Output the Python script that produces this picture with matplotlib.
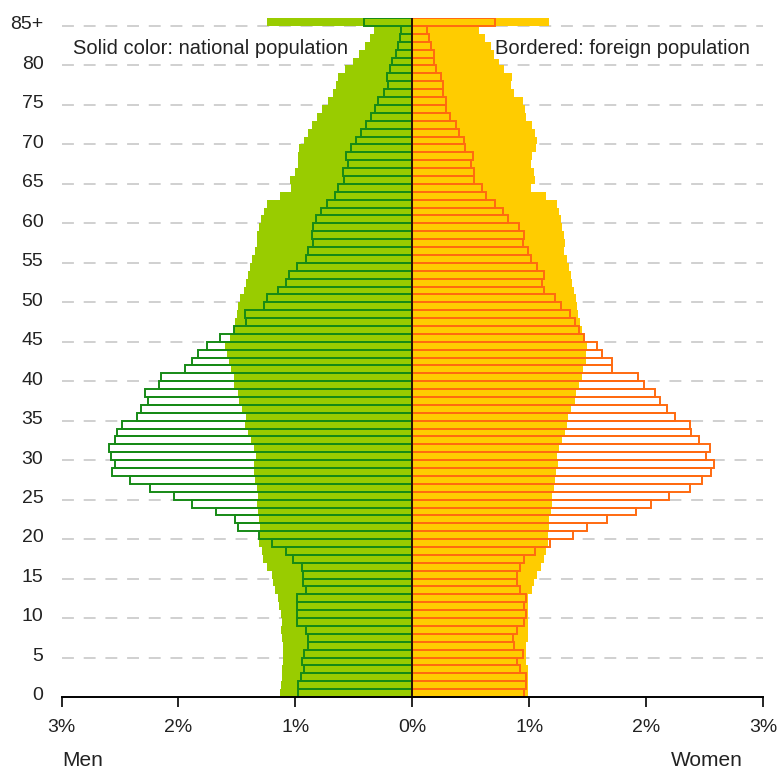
import matplotlib
matplotlib.use("Agg")
import matplotlib.pyplot as plt
import numpy as np

plt.rcParams['font.family'] = ['Liberation Sans', 'DejaVu Sans']

ages = list(range(86))
age_labels = [str(a) for a in range(0, 85, 5)] + ["85+"]
age_label_pos = list(range(0, 86, 5))

men_national = [1.131, 1.122, 1.116, 1.116, 1.108, 1.102, 1.108, 1.111, 1.122, 1.116,
                1.125, 1.139, 1.151, 1.173, 1.188, 1.202, 1.244, 1.273, 1.287, 1.310,
                1.307, 1.298, 1.312, 1.318, 1.327, 1.318, 1.332, 1.341, 1.352, 1.352,
                1.339, 1.352, 1.381, 1.401, 1.429, 1.423, 1.452, 1.480, 1.494, 1.523,
                1.528, 1.551, 1.571, 1.588, 1.599, 1.560, 1.523, 1.514, 1.500, 1.491,
                1.472, 1.443, 1.423, 1.406, 1.392, 1.367, 1.344, 1.325, 1.324, 1.315,
                1.293, 1.265, 1.240, 1.131, 1.035, 1.045, 1.003, 0.976, 0.980, 0.972,
                0.930, 0.890, 0.860, 0.818, 0.776, 0.719, 0.676, 0.656, 0.634, 0.577,
                0.505, 0.457, 0.406, 0.364, 0.327, 1.244]
men_foreign = [0.974, 0.974, 0.955, 0.923, 0.940, 0.923, 0.889, 0.895, 0.912, 0.983,
               0.983, 0.983, 0.989, 0.912, 0.938, 0.932, 0.940, 1.023, 1.082, 1.196,
               1.307, 1.491, 1.520, 1.679, 1.884, 2.040, 2.244, 2.418, 2.571, 2.543,
               2.580, 2.594, 2.543, 2.528, 2.480, 2.358, 2.324, 2.259, 2.290, 2.168,
               2.148, 1.946, 1.884, 1.832, 1.756, 1.648, 1.523, 1.423, 1.429, 1.267,
               1.239, 1.145, 1.082, 1.051, 0.989, 0.909, 0.895, 0.847, 0.861, 0.847,
               0.827, 0.784, 0.733, 0.662, 0.639, 0.582, 0.591, 0.548, 0.563, 0.528,
               0.483, 0.435, 0.392, 0.355, 0.315, 0.293, 0.241, 0.207, 0.216, 0.193,
               0.170, 0.136, 0.122, 0.108, 0.094, 0.412]
women_national = [0.994, 0.994, 0.994, 0.991, 0.972, 0.977, 0.977, 0.991, 0.986, 0.986,
                  0.986, 0.994, 0.986, 1.023, 1.043, 1.071, 1.105, 1.128, 1.142, 1.165,
                  1.165, 1.170, 1.170, 1.185, 1.199, 1.193, 1.213, 1.219, 1.227, 1.250,
                  1.241, 1.256, 1.284, 1.304, 1.327, 1.332, 1.361, 1.389, 1.398, 1.426,
                  1.455, 1.460, 1.483, 1.483, 1.497, 1.469, 1.449, 1.432, 1.420, 1.412,
                  1.398, 1.384, 1.369, 1.361, 1.341, 1.327, 1.298, 1.307, 1.298, 1.284,
                  1.270, 1.256, 1.241, 1.148, 1.014, 1.051, 1.043, 1.014, 1.028, 1.057,
                  1.071, 1.051, 1.023, 0.977, 0.966, 0.943, 0.872, 0.844, 0.852, 0.787,
                  0.744, 0.722, 0.673, 0.625, 0.574, 1.170]
women_foreign = [0.957, 0.972, 0.972, 0.923, 0.892, 0.943, 0.872, 0.864, 0.892, 0.957,
                 0.972, 0.957, 0.972, 0.923, 0.892, 0.892, 0.923, 0.957, 1.051, 1.179,
                 1.378, 1.491, 1.668, 1.918, 2.043, 2.199, 2.372, 2.477, 2.557, 2.577,
                 2.514, 2.543, 2.449, 2.386, 2.372, 2.244, 2.179, 2.117, 2.074, 1.980,
                 1.932, 1.710, 1.705, 1.625, 1.582, 1.469, 1.426, 1.392, 1.349, 1.270,
                 1.222, 1.128, 1.114, 1.128, 1.065, 1.014, 0.986, 0.943, 0.957, 0.909,
                 0.815, 0.773, 0.710, 0.631, 0.597, 0.531, 0.531, 0.503, 0.517, 0.455,
                 0.446, 0.403, 0.375, 0.327, 0.290, 0.290, 0.267, 0.261, 0.247, 0.199,
                 0.182, 0.182, 0.162, 0.139, 0.125, 0.710]
x_ticks = [-3, -2, -1, 0, 1, 2, 3]
x_tick_labels = ["3%", "2%", "1%", "0%", "1%", "2%", "3%"]

GREEN = "#99CC00"
GREEN_EDGE = "#168A16"
YELLOW = "#FFCC00"
ORANGE_EDGE = "#FF6A10"

fig = plt.figure(figsize=(7.79, 7.70), dpi=100)
ax = fig.add_axes([61.5 / 779, 73 / 770, 701.5 / 779, (697 - 18.1) / 770])

mn = np.array(men_national)
mf = np.array(men_foreign)
wn = np.array(women_national)
wf = np.array(women_foreign)

# gridlines
for a in age_label_pos[1:]:
    ax.axhline(a, color="#C4C4C4", lw=1.1, linestyle=(0, (7.8, 6.4)), zorder=0.5)

# foreign background (white)
ax.barh(ages, -mf, height=1, align="edge", color="white", lw=0, zorder=1)
ax.barh(ages, wf, height=1, align="edge", color="white", lw=0, zorder=1)
# national solid
ax.barh(ages, -mn, height=1, align="edge", color=GREEN, lw=0, zorder=2)
ax.barh(ages, wn, height=1, align="edge", color=YELLOW, lw=0, zorder=2)
# foreign outlines
ax.barh(ages, -mf, height=1, align="edge", facecolor="none", edgecolor=GREEN_EDGE, lw=1.4, zorder=3)
ax.barh(ages, wf, height=1, align="edge", facecolor="none", edgecolor=ORANGE_EDGE, lw=1.4, zorder=3)

ax.plot([0, 0], [0, 86], color="black", lw=1.2, zorder=4)

ax.set_xlim(-3, 3)
ax.set_ylim(0, 86)
ax.set_xticks(x_ticks)
ax.set_xticklabels(x_tick_labels, fontsize=14, color="#222222")
ax.set_yticks([p + 0.4 for p in age_label_pos])
ax.set_yticklabels(age_labels, fontsize=14, color="#222222")
ax.tick_params(axis="y", length=0, pad=13)
ax.tick_params(axis="x", length=7, width=1.2, direction="out", pad=9, colors="black", labelcolor="#222222")
for s in ["left", "right", "top"]:
    ax.spines[s].set_visible(False)
ax.spines["bottom"].set_linewidth(1.4)
ax.spines["bottom"].set_zorder(5)

ax.text(-2.9, 82.2, "Solid color: national population", fontsize=14.5, color="#222222",
        ha="left", va="center", zorder=6,
        bbox=dict(facecolor="white", edgecolor="none", pad=1))
ax.text(2.89, 82.2, "Bordered: foreign population", fontsize=14.5, color="#222222",
        ha="right", va="center", zorder=6,
        bbox=dict(facecolor="white", edgecolor="none", pad=1))

fig.text(62 / 779, 1 - 760 / 770, "Men", fontsize=15, color="#222222", ha="left", va="center")
fig.text(743 / 779, 1 - 760 / 770, "Women", fontsize=15, color="#222222", ha="right", va="center")

fig.savefig("out.png", dpi=100)
